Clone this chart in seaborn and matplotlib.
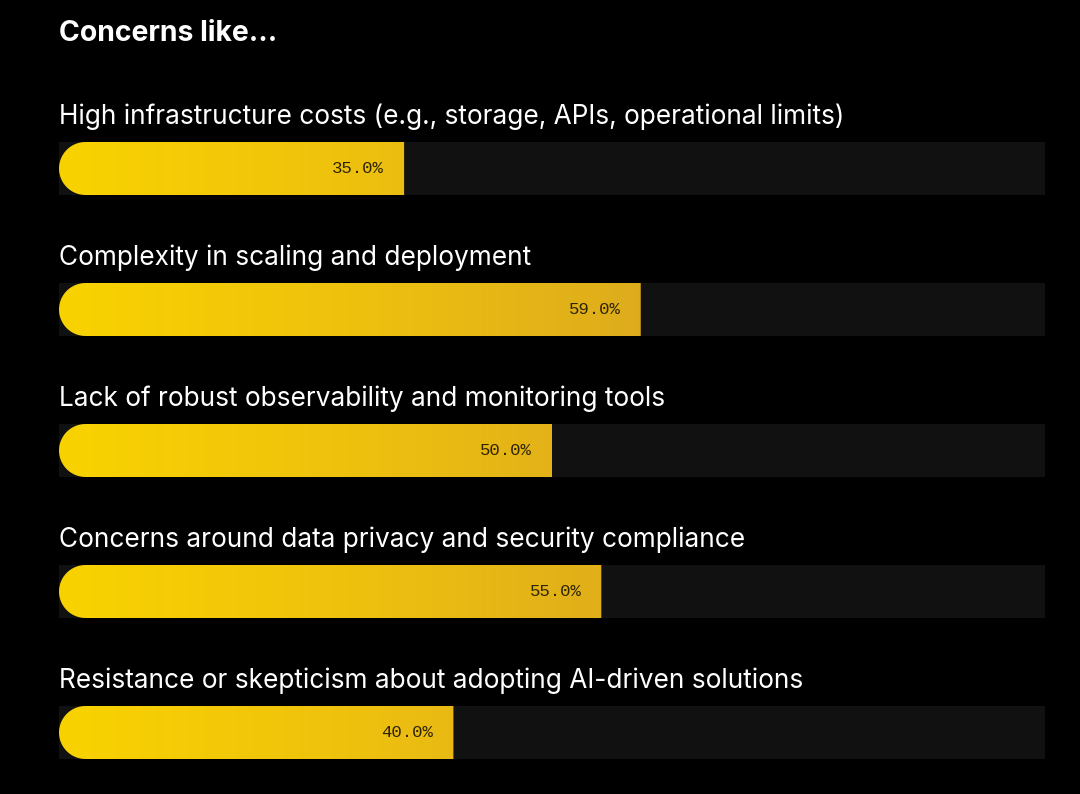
import numpy as np
import pandas as pd
import matplotlib
matplotlib.use("Agg")
import matplotlib.pyplot as plt
import seaborn as sns
from matplotlib.path import Path
from matplotlib.colors import LinearSegmentedColormap

# data
title = "Concerns like..."
concerns = [
    "High infrastructure costs (e.g., storage, APIs, operational limits)",
    "Complexity in scaling and deployment",
    "Lack of robust observability and monitoring tools",
    "Concerns around data privacy and security compliance",
    "Resistance or skepticism about adopting AI-driven solutions",
]
shares = [35.0, 59.0, 50.0, 55.0, 40.0]

df = pd.DataFrame({"concern": concerns, "share": shares, "full": [100] * len(concerns)})

sns.set_theme(style="white")
plt.rcParams['font.family'] = ['Inter', 'DejaVu Sans']

W, H, DPI = 1080, 794, 100
fig = plt.figure(figsize=(W / DPI, H / DPI), dpi=DPI, facecolor="black")
# axes: x 0..100 spans px 59..1045, full height
ax = fig.add_axes([59 / W, 0, 986 / W, 1])
ax.set_facecolor("black")

bar_h = 53 / 141
sns.barplot(data=df, x="full", y="concern", color="#111111", width=bar_h,
            saturation=1, linewidth=0, ax=ax, orient="h")
n_track = len(ax.patches)
sns.barplot(data=df, x="share", y="concern", color="#F5C800", width=bar_h,
            saturation=1, linewidth=0, ax=ax, orient="h")

ax.set_xlim(0, 100)
ax.set_ylim((794 - 168.5) / 141, (0 - 168.5) / 141)
ax.axis("off")

# rounded-left gradient bars
px_per_x = 986 / 100
px_per_y = 141
cmap = LinearSegmentedColormap.from_list("gold", ["#F9D300", "#EEC00F", "#DCAA1E"])
grad_end = 62.0  # gradient reaches its darkest tone here

for p in ax.patches[n_track:]:
    x0, y0 = p.get_x(), p.get_y()
    w, h = p.get_width(), p.get_height()
    p.set_visible(False)
    r_px = h * px_per_y / 2
    rx = r_px / px_per_x
    ry = h / 2
    yc = y0 + ry
    # half-ellipse cap on the left, square end on the right
    verts = [(x0 + w, y0), (x0 + rx, y0)]
    for tt in np.linspace(0, np.pi, 40):
        verts.append((x0 + rx - rx * np.sin(tt), yc - ry * np.cos(tt)))
    verts += [(x0 + rx, y0 + h), (x0 + w, y0 + h), (x0 + w, y0)]
    path = Path(verts)
    grad = np.clip(np.linspace(x0, x0 + w, 256) / grad_end, 0, 1).reshape(1, -1)
    im = ax.imshow(grad, cmap=cmap, vmin=0, vmax=1, aspect="auto",
                   extent=[x0, x0 + w, y0 + h, y0], zorder=3, interpolation="bicubic")
    im.set_clip_path(path, transform=ax.transData)
    ax.text(x0 + w - 20 / px_per_x, yc, f"{w:.1f}%", ha="right", va="center",
            fontsize=12.5, color="#2e2500", family=["Liberation Mono", "DejaVu Sans Mono"],
            zorder=4)

ax.set_xlim(0, 100)
ax.set_ylim((794 - 168.5) / 141, (0 - 168.5) / 141)

for i, c in enumerate(concerns):
    ax.text(0, i - 51.5 / 141, c, ha="left", va="center", fontsize=18.9, color="white")

ax.text(0, (34 - 168.5) / 141, title, ha="left", va="center", fontsize=20.4,
        fontweight="bold", color="white")

fig.savefig("out.png", dpi=DPI, facecolor="black")
